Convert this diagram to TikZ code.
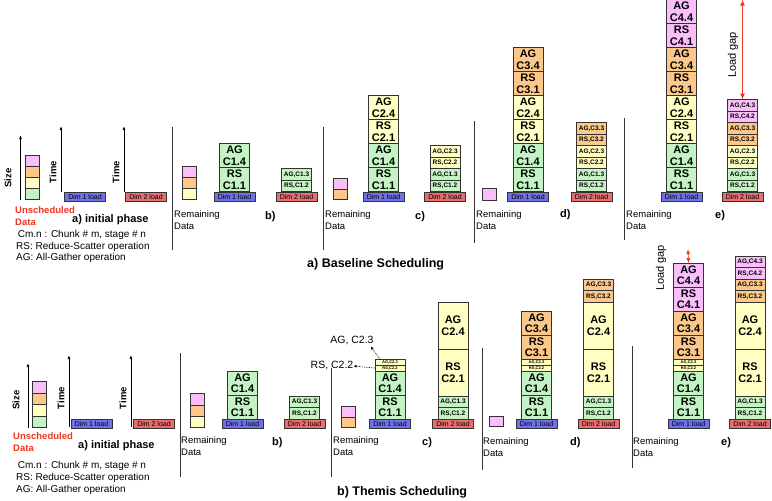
\documentclass[tikz,border=0pt]{standalone}
\usepackage{fontspec}
\setmainfont{Liberation Sans}
\usetikzlibrary{arrows.meta,positioning}

\definecolor{cgreen}{RGB}{196,244,196}
\definecolor{cyellow}{RGB}{255,255,196}
\definecolor{corange}{RGB}{252,200,138}
\definecolor{cpink}{RGB}{250,190,250}
\definecolor{cdimone}{RGB}{112,112,232}
\definecolor{cdimtwo}{RGB}{232,110,110}
\definecolor{cred}{RGB}{240,52,30}

\tikzset{
  blk/.style={draw=black!80,line width=0.8pt,minimum width=30pt,minimum height=24pt,inner sep=0pt,outer sep=0pt,anchor=south,align=center,font=\fontsize{11}{11.5}\selectfont\bfseries},
  sblk/.style={blk,minimum height=11.5pt,font=\fontsize{6.5}{7}\selectfont\bfseries},
  tblk/.style={blk,minimum height=6pt,font=\fontsize{4}{4}\selectfont\bfseries},
  dblk/.style={blk,minimum height=47pt},
  chip/.style={draw=black!80,line width=0.8pt,minimum width=14pt,minimum height=11pt,inner sep=0pt,anchor=south},
  dimbox/.style={draw=black!80,line width=0.8pt,minimum width=41pt,minimum height=9pt,inner sep=0pt,font=\fontsize{7}{7}\selectfont},
  axis/.style={line width=0.8pt,-{Latex[length=4pt,width=3pt]}},
  sepline/.style={line width=0.8pt,black!80},
  axlabel/.style={rotate=90,font=\fontsize{9.5}{9.5}\selectfont\bfseries},
  remtext/.style={anchor=west,align=left,inner sep=0pt,font=\fontsize{9.5}{12}\selectfont},
  redtext/.style={remtext,text=cred,font=\fontsize{9.5}{12}\selectfont\bfseries},
  phase/.style={anchor=west,inner sep=0pt,font=\fontsize{11}{11}\selectfont\bfseries},
  legend/.style={anchor=west,align=left,inner sep=0pt,font=\fontsize{10}{11.8}\selectfont},
  title/.style={anchor=west,inner sep=0pt,font=\fontsize{12.5}{12.5}\selectfont\bfseries},
  gaparrow/.style={cred,line width=1pt,{Latex[length=6pt,width=5pt]}-{Latex[length=6pt,width=5pt]}},
  gaptext/.style={rotate=90,font=\fontsize{11}{11}\selectfont},
  dotarrow/.style={densely dotted,line width=0.7pt,-{Latex[length=3pt,width=3pt]}},
  calllabel/.style={inner sep=0pt,font=\fontsize{10.5}{10.5}\selectfont}
}

\begin{document}
\begin{tikzpicture}[x=1pt,y=-1pt]
\useasboundingbox (0,0) rectangle (772,501);

% ================= a) Baseline Scheduling =================
% initial phase
\draw[axis] (20.5,200) -- (20.5,135);
\node[axlabel] (tsize) at (8,178) {Size};
\foreach \c [count=\n] in {cgreen,cyellow,corange,cpink}
  \node[chip,fill=\c,yshift=(\n-1)*11pt] (tau\n) at (32,200) {};
\draw[axis] (61,192) -- (61,126);
\node[axlabel] (ttime1) at (53,172) {Time};
\draw[axis] (124,192) -- (124,126);
\node[axlabel] (ttime2) at (116,172) {Time};
\node[dimbox,fill=cdimone] (tad1) at (85,196.5) {Dim 1 load};
\node[dimbox,fill=cdimtwo] (tad2) at (146,196.5) {Dim 2 load};
\node[redtext] (tunsch) at (15,216) {Unscheduled\\Data};
\node[phase] (tphase) at (72,220) {a) initial phase};
\node[legend] (tlegend) at (16,246.5) {\,Cm.n : Chunk \# m, stage \# n\\RS: Reduce-Scatter operation\\AG: All-Gather operation};
\draw[sepline] (172,127) -- (172,250);

% b)
\foreach \c [count=\n] in {cyellow,corange,cpink}
  \node[chip,fill=\c,yshift=(\n-1)*11pt] (tbr\n) at (189.5,200) {};
\node[dimbox,fill=cdimone] (tbd1) at (234.5,196.5) {Dim 1 load};
\node[dimbox,fill=cdimtwo] (tbd2) at (296.5,196.5) {Dim 2 load};
\foreach \o/\k/\c [count=\n] in {RS/C1.1/cgreen,AG/C1.4/cgreen}
  \node[blk,fill=\c,yshift=(\n-1)*24pt] (tb1s\n) at (tbd1.north) {\o\\\k};
\foreach \o/\k/\c [count=\n] in {RS/C1.2/cgreen,AG/C1.3/cgreen}
  \node[sblk,fill=\c,yshift=(\n-1)*11.5pt] (tb2s\n) at (tbd2.north) {\o,\k};
\node[remtext] (tbrem) at (174,220) {Remaining\\Data};
\node[phase] (tblab) at (265,217) {b)};
\draw[sepline] (323,127) -- (323,250);

% c)
\foreach \c [count=\n] in {corange,cpink}
  \node[chip,fill=\c,yshift=(\n-1)*10.5pt,minimum height=10.5pt] (tcr\n) at (340,200) {};
\node[dimbox,fill=cdimone] (tcd1) at (383.5,196.5) {Dim 1 load};
\node[dimbox,fill=cdimtwo] (tcd2) at (445,196.5) {Dim 2 load};
\foreach \o/\k/\c [count=\n] in {RS/C1.1/cgreen,AG/C1.4/cgreen,RS/C2.1/cyellow,AG/C2.4/cyellow}
  \node[blk,fill=\c,yshift=(\n-1)*24pt] (tc1s\n) at (tcd1.north) {\o\\\k};
\foreach \o/\k/\c [count=\n] in {RS/C1.2/cgreen,AG/C1.3/cgreen,RS/C2.2/cyellow,AG/C2.3/cyellow}
  \node[sblk,fill=\c,yshift=(\n-1)*11.5pt] (tc2s\n) at (tcd2.north) {\o,\k};
\node[remtext] (tcrem) at (325,220) {Remaining\\Data};
\node[phase] (tclab) at (415,217) {c)};
\draw[sepline] (474,121) -- (474,243);

% d)
\node[chip,fill=cpink,minimum height=12pt] (tdr1) at (489,201) {};
\node[dimbox,fill=cdimone] (tdd1) at (528,196.5) {Dim 1 load};
\node[dimbox,fill=cdimtwo] (tdd2) at (591.5,196.5) {Dim 2 load};
\foreach \o/\k/\c [count=\n] in {RS/C1.1/cgreen,AG/C1.4/cgreen,RS/C2.1/cyellow,AG/C2.4/cyellow,RS/C3.1/corange,AG/C3.4/corange}
  \node[blk,fill=\c,yshift=(\n-1)*24pt] (td1s\n) at (tdd1.north) {\o\\\k};
\foreach \o/\k/\c [count=\n] in {RS/C1.2/cgreen,AG/C1.3/cgreen,RS/C2.2/cyellow,AG/C2.3/cyellow,RS/C3.2/corange,AG/C3.3/corange}
  \node[sblk,fill=\c,yshift=(\n-1)*11.5pt] (td2s\n) at (tdd2.north) {\o,\k};
\node[remtext] (tdrem) at (476,220) {Remaining\\Data};
\node[phase] (tdlab) at (560,215) {d)};
\draw[sepline] (624,118) -- (624,240);

% e)
\node[dimbox,fill=cdimone] (ted1) at (681.5,196.5) {Dim 1 load};
\node[dimbox,fill=cdimtwo] (ted2) at (742.5,196.5) {Dim 2 load};
\foreach \o/\k/\c [count=\n] in {RS/C1.1/cgreen,AG/C1.4/cgreen,RS/C2.1/cyellow,AG/C2.4/cyellow,RS/C3.1/corange,AG/C3.4/corange,RS/C4.1/cpink,AG/C4.4/cpink}
  \node[blk,fill=\c,yshift=(\n-1)*24pt] (te1s\n) at (ted1.north) {\o\\\k};
\foreach \o/\k/\c [count=\n] in {RS/C1.2/cgreen,AG/C1.3/cgreen,RS/C2.2/cyellow,AG/C2.3/cyellow,RS/C3.2/corange,AG/C3.3/corange,RS/C4.2/cpink,AG/C4.3/cpink}
  \node[sblk,fill=\c,yshift=(\n-1)*11.5pt] (te2s\n) at (ted2.north) {\o,\k};
\draw[gaparrow] (te2s8.north) -- (te2s8.north |- te1s8.north);
\node[gaptext] (tgap) at (733,55) {Load gap};
\node[remtext] (terem) at (626,220) {Remaining\\Data};
\node[phase] (telab) at (715,216) {e)};

\node[title] (ttitle) at (307,264) {a) Baseline Scheduling};

% ================= b) Themis Scheduling =================
% initial phase
\draw[axis] (28,428) -- (28,363);
\node[axlabel] (bsize) at (16,400) {Size};
\foreach \c [count=\n] in {cgreen,cyellow,corange,cpink}
  \node[chip,fill=\c,minimum height=11.5pt,yshift=(\n-1)*11.5pt] (bau\n) at (39,428) {};
\draw[axis] (69,427) -- (69,355);
\node[axlabel] (btime1) at (61,398) {Time};
\draw[axis] (131,427) -- (131,355);
\node[axlabel] (btime2) at (123,398) {Time};
\node[dimbox,fill=cdimone] (bad1) at (91.5,424) {Dim 1 load};
\node[dimbox,fill=cdimtwo] (bad2) at (154,424) {Dim 2 load};
\node[redtext] (bunsch) at (13,442.5) {Unscheduled\\Data};
\node[phase] (bphase) at (78,446) {a) initial phase};
\node[legend] (blegend) at (16,478) {\,Cm.n : Chunk \# m, stage \# n\\RS: Reduce-Scatter operation\\AG: All-Gather operation};
\draw[sepline] (180,353) -- (180,477);

% b)
\foreach \c [count=\n] in {cyellow,corange,cpink}
  \node[chip,fill=\c,minimum height=11.3pt,yshift=(\n-1)*11.3pt] (bbr\n) at (197.5,428) {};
\node[dimbox,fill=cdimone] (bbd1) at (242.5,424) {Dim 1 load};
\node[dimbox,fill=cdimtwo] (bbd2) at (304.5,424) {Dim 2 load};
\foreach \o/\k/\c [count=\n] in {RS/C1.1/cgreen,AG/C1.4/cgreen}
  \node[blk,fill=\c,yshift=(\n-1)*24pt] (bb1s\n) at (bbd1.north) {\o\\\k};
\foreach \o/\k/\c [count=\n] in {RS/C1.2/cgreen,AG/C1.3/cgreen}
  \node[sblk,fill=\c,yshift=(\n-1)*11.5pt] (bb2s\n) at (bbd2.north) {\o,\k};
\node[remtext] (bbrem) at (181,446.5) {Remaining\\Data};
\node[phase] (bblab) at (272,443) {b)};
\draw[sepline] (331,368) -- (331,477);

% c)
\foreach \c [count=\n] in {corange,cpink}
  \node[chip,fill=\c,minimum height=10.5pt,yshift=(\n-1)*10.5pt] (bcr\n) at (348,428) {};
\node[dimbox,fill=cdimone] (bcd1) at (390,424) {Dim 1 load};
\node[dimbox,fill=cdimtwo] (bcd2) at (453,424) {Dim 2 load};
\foreach \sty/\lbl/\c/\yb [count=\n] in {blk/{RS\\C1.1}/cgreen/0,blk/{AG\\C1.4}/cgreen/24,tblk/{RS,C2.2}/cyellow/48,tblk/{AG,C2.3}/cyellow/54}
  \node[\sty,fill=\c,yshift=\yb pt] (bc1s\n) at (bcd1.north) {\lbl};
\foreach \sty/\lbl/\c/\yb [count=\n] in {sblk/{RS,C1.2}/cgreen/0,sblk/{AG,C1.3}/cgreen/11.5,dblk/{RS\\C2.1}/cyellow/23,dblk/{AG\\C2.4}/cyellow/70}
  \node[\sty,fill=\c,yshift=\yb pt] (bc2s\n) at (bcd2.north) {\lbl};
\node[calllabel] (brsl) at (332,366) {RS, C2.2};
\node[calllabel] (bagl) at (352,341) {AG, C2.3};
\draw[dotarrow] (bc1s3.west) -- (brsl.east);
\draw[dotarrow] ([xshift=5pt]bc1s4.north west) -- ([xshift=-3pt,yshift=-1pt]bagl.south east);
\node[remtext] (bcrem) at (333,446.5) {Remaining\\Data};
\node[phase] (bclab) at (422,443) {c)};
\draw[sepline] (482,348) -- (482,470);

% d)
\node[chip,fill=cpink,minimum height=10pt] (bdr1) at (496,427) {};
\node[dimbox,fill=cdimone] (bdd1) at (536.5,424) {Dim 1 load};
\node[dimbox,fill=cdimtwo] (bdd2) at (598.5,424) {Dim 2 load};
\foreach \sty/\lbl/\c/\yb [count=\n] in {blk/{RS\\C1.1}/cgreen/0,blk/{AG\\C1.4}/cgreen/24,tblk/{RS,C2.2}/cyellow/48,tblk/{AG,C2.3}/cyellow/54,blk/{RS\\C3.1}/corange/60,blk/{AG\\C3.4}/corange/84}
  \node[\sty,fill=\c,yshift=\yb pt] (bd1s\n) at (bdd1.north) {\lbl};
\foreach \sty/\lbl/\c/\yb [count=\n] in {sblk/{RS,C1.2}/cgreen/0,sblk/{AG,C1.3}/cgreen/11.5,dblk/{RS\\C2.1}/cyellow/23,dblk/{AG\\C2.4}/cyellow/70,sblk/{RS,C3.2}/corange/117,sblk/{AG,C3.3}/corange/128.5}
  \node[\sty,fill=\c,yshift=\yb pt] (bd2s\n) at (bdd2.north) {\lbl};
\node[remtext] (bdrem) at (483,447.5) {Remaining\\Data};
\node[phase] (bdlab) at (570,443) {d)};
\draw[sepline] (632,346) -- (632,468);

% e)
\node[dimbox,fill=cdimone] (bed1) at (688.5,424) {Dim 1 load};
\node[dimbox,fill=cdimtwo] (bed2) at (750,424) {Dim 2 load};
\foreach \sty/\lbl/\c/\yb [count=\n] in {blk/{RS\\C1.1}/cgreen/0,blk/{AG\\C1.4}/cgreen/24,tblk/{RS,C2.2}/cyellow/48,tblk/{AG,C2.3}/cyellow/54,blk/{RS\\C3.1}/corange/60,blk/{AG\\C3.4}/corange/84,blk/{RS\\C4.1}/cpink/108,blk/{AG\\C4.4}/cpink/132}
  \node[\sty,fill=\c,yshift=\yb pt] (be1s\n) at (bed1.north) {\lbl};
\foreach \sty/\lbl/\c/\yb [count=\n] in {sblk/{RS,C1.2}/cgreen/0,sblk/{AG,C1.3}/cgreen/11.5,dblk/{RS\\C2.1}/cyellow/23,dblk/{AG\\C2.4}/cyellow/70,sblk/{RS,C3.2}/corange/117,sblk/{AG,C3.3}/corange/128.5,sblk/{RS,C4.2}/cpink/140,sblk/{AG,C4.3}/cpink/151.5}
  \node[\sty,fill=\c,yshift=\yb pt] (be2s\n) at (bed2.north) {\lbl};
\coordinate (bgaptop) at (688,249);
\draw[gaparrow,line width=0.8pt,{Latex[length=5pt,width=4pt]}-{Latex[length=5pt,width=4pt]}] (be1s8.north) -- (bgaptop);
\node[gaptext] (bgap) at (661,268) {Load gap};
\node[remtext] (berem) at (633,447.5) {Remaining\\Data};
\node[phase] (belab) at (721,443) {e)};

\node[title] (btitle) at (337,492) {b) Themis Scheduling};
\end{tikzpicture}
\end{document}
